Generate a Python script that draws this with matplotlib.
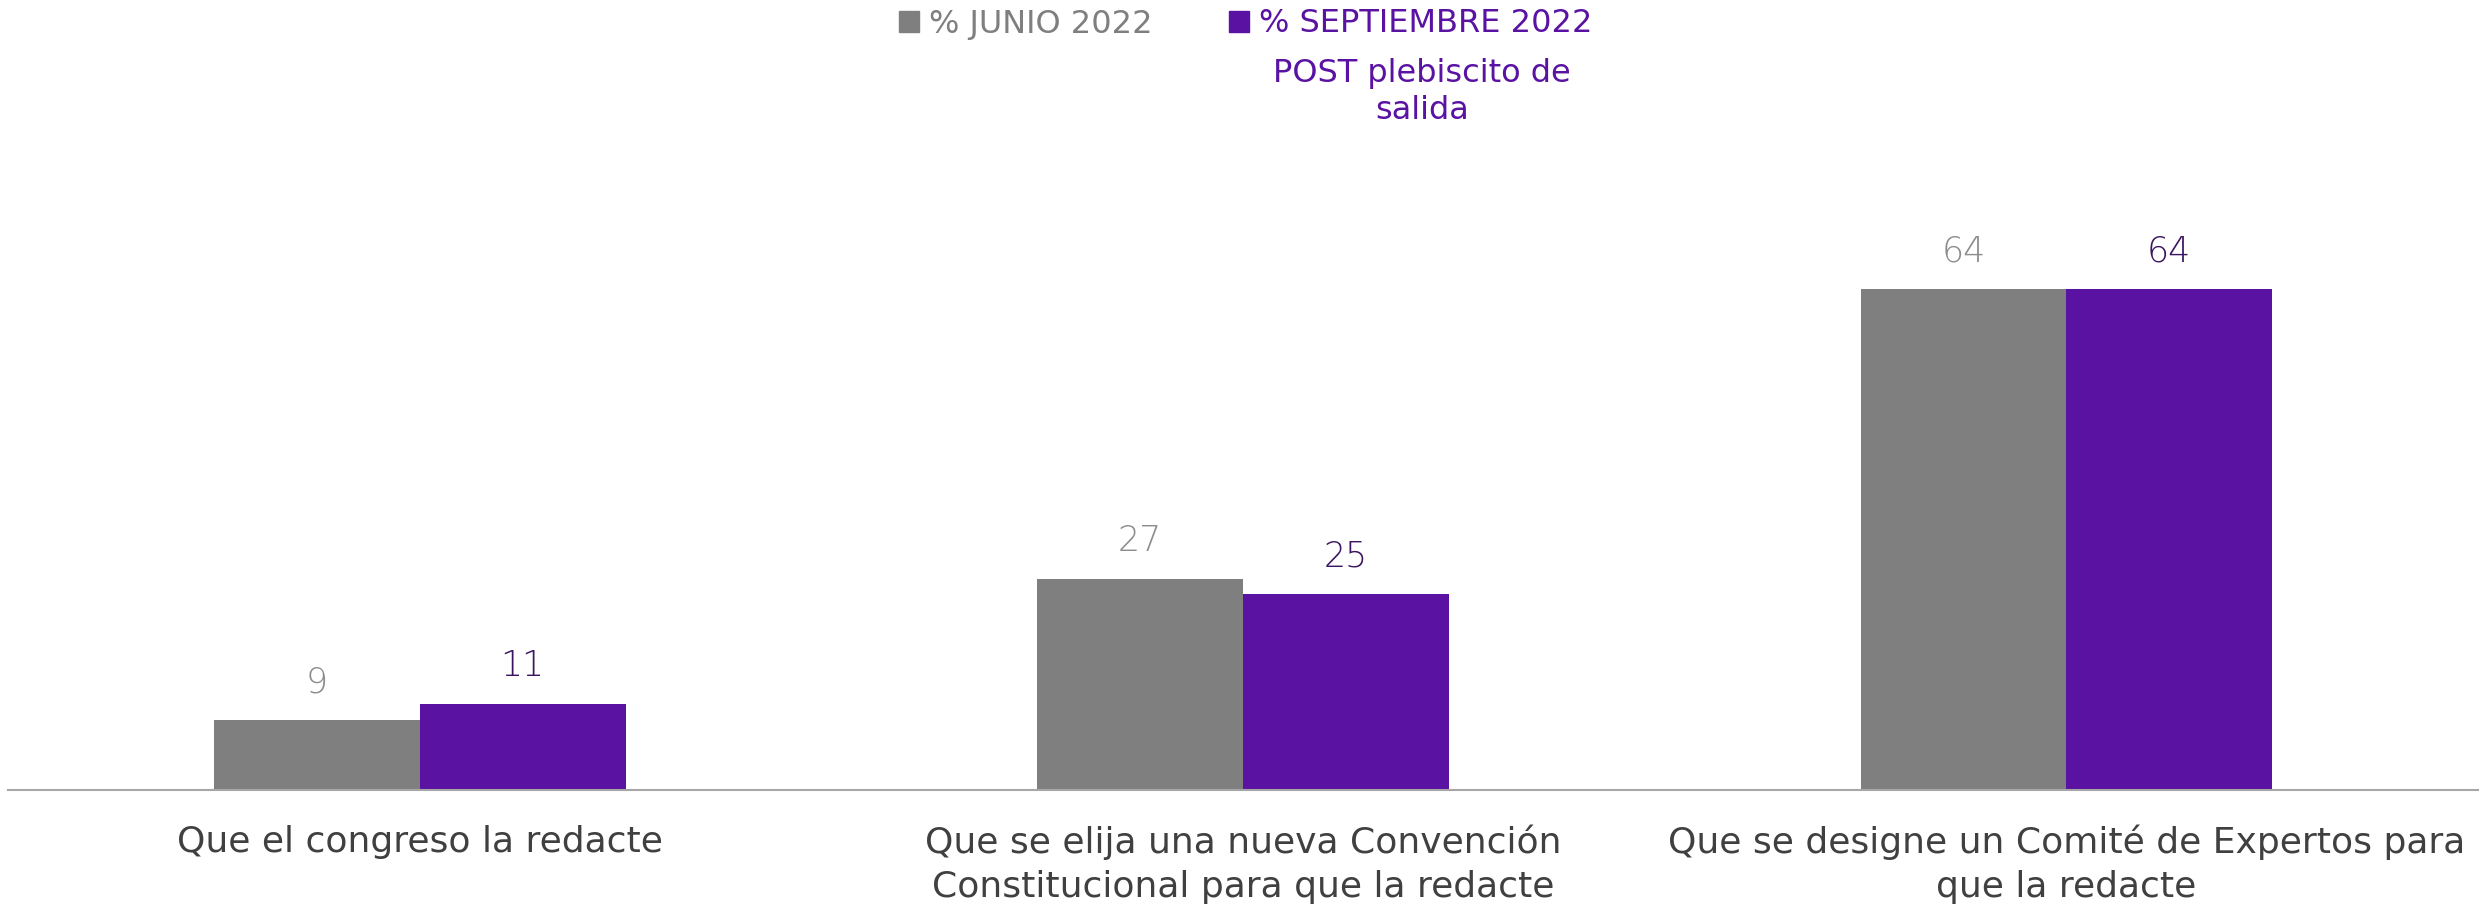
import numpy as np
import matplotlib
matplotlib.use("Agg")
import matplotlib.pyplot as plt
from matplotlib.patches import Patch

# datos
categorias = ["Que el congreso la redacte",
              "Que se elija una nueva Convención\nConstitucional para que la redacte",
              "Que se designe un Comité de Expertos para\nque la redacte"]
junio_2022 = [9, 27, 64]
septiembre_2022 = [11, 25, 64]
serie_labels = ["% JUNIO 2022", "% SEPTIEMBRE 2022"]
nota_sept = "POST plebiscito de\nsalida"

gris = "#7f7f7f"
morado = "#5a12a2"

W, H = 2491, 907
fig = plt.figure(figsize=(W / 100, H / 100), dpi=100)
ax = fig.add_axes([8 / W, (H - 790) / H, 2470 / W, 626 / H])

x = np.arange(len(categorias))
ancho = 0.25
b1 = ax.bar(x - ancho / 2, junio_2022, ancho, color=gris)
b2 = ax.bar(x + ancho / 2, septiembre_2022, ancho, color=morado)

# etiquetas de valores
for barras, col in [(b1, "#8c8c8c"), (b2, "#3b1560")]:
    for b in barras:
        ax.annotate(f"{b.get_height():g}", (b.get_x() + b.get_width() / 2, b.get_height()),
                    xytext=(0, 27), textcoords="offset points", ha="center", va="center",
                    fontsize=25, color=col, family="DejaVu Sans", fontweight="ultralight")

ax.set_xlim(-0.5, 2.5)
ax.set_ylim(0, 80)
ax.set_yticks([])
ax.set_xticks(x)
ax.set_xticklabels(categorias, fontsize=26, color="#404040", family="DejaVu Sans",
                   linespacing=1.35)
ax.tick_params(axis="x", length=0, pad=25)
for s in ["top", "left", "right"]:
    ax.spines[s].set_visible(False)
ax.spines["bottom"].set_color("#a6a6a6")
ax.spines["bottom"].set_linewidth(1.5)

# leyenda
handles = [Patch(color=gris), Patch(color=morado)]
leg = fig.legend(handles, serie_labels, loc="center", bbox_to_anchor=(0.5, 1 - 24 / H),
                 ncol=2, frameon=False, handlelength=0.63, handleheight=0.63,
                 handletextpad=0.3, columnspacing=2.4, borderaxespad=0,
                 labelcolor=[gris, morado], prop={"family": "DejaVu Sans", "size": 23})
fig.text(1422 / W, 1 - 92 / H, nota_sept, ha="center", va="center", fontsize=23,
         color=morado, family="DejaVu Sans", linespacing=1.25)

fig.savefig("out.png", dpi=100)
